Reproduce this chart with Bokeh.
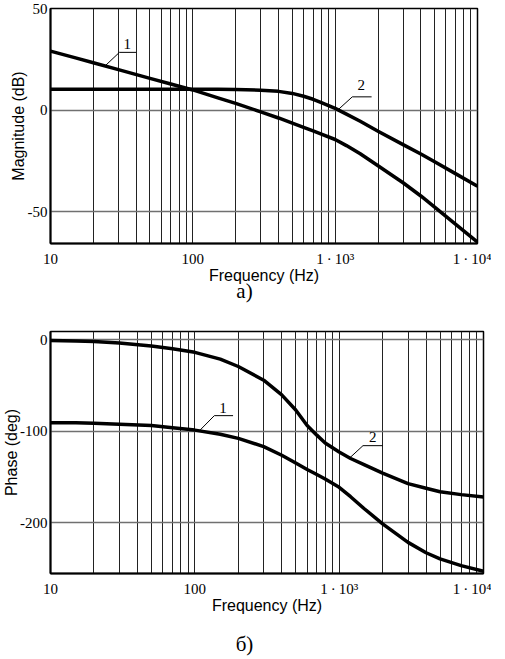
from bokeh.plotting import figure
from bokeh.models import FixedTicker, Div
from bokeh.layouts import column
from bokeh.embed import file_html
from bokeh.resources import INLINE
from bokeh.core.properties import value

# ---------------- data ----------------
freq = [10, 15, 20, 30, 50, 70, 100, 150, 200, 300, 400, 500, 600, 700, 800,
        1000, 1200, 1500, 2000, 3000, 4000, 5000, 7000, 10000]

mag1 = [29.0, 25.7, 23.3, 19.9, 15.6, 12.8, 9.9, 6.0, 3.3, -0.9, -3.9, -6.4, -8.5, -10.3, -11.9,
        -14.5, -17.5, -21.5, -27.4, -35.8, -42.3, -47.8, -56.2, -65.0]
mag2 = [10.2, 10.2, 10.2, 10.2, 10.2, 10.2, 10.2, 10.2, 10.1, 9.8, 9.2, 8.2, 6.8, 5.3, 3.7,
        0.8, -2.0, -5.5, -10.4, -17.0, -21.6, -25.5, -31.3, -37.5]

ph1 = [-91, -91, -91.5, -92.5, -94, -96.5, -99, -103.5, -108, -117, -126.5, -135, -142, -147.5, -152.5,
       -161.5, -171.8, -185.2, -201.5, -221.7, -233, -239.8, -247.1, -253.3]
ph2 = [-1, -1.5, -2.2, -3.8, -7.2, -10, -14, -21.5, -29.5, -44.5, -60.5, -77, -94, -104.5, -113,
       -123, -130, -137, -146, -157.5, -162.5, -166.3, -169.5, -172]

x_ticks = [10, 100, 1000, 10000]
x_tick_labels = ["10", "100", "1\u2009\u00b7\u200910\u00b3", "1\u2009\u00b7\u200910\u2074"]
mag_ticks = [-50, 0, 50]
mag_tick_labels = ["-50", "0", "50"]
phase_ticks = [-200, -100, 0]
phase_tick_labels = ["-200", "-100", "0"]

captions = ["a)", "\u0431)"]
curve_names = ["1", "2"]
# leader lines (frequency, value) and label anchors
mag_lead_f = [[24.4, 30.5, 40.0], [1062, 1319, 1803]]
mag_lead_v = [[22.0, 28.4, 28.4], [0.5, 6.5, 6.5]]
mag_lab_f = [34.6, 1524]
mag_lab_v = [32.5, 12.2]
ph_lead_f = [[109, 136.5, 184], [1183, 1462, 2000]]
ph_lead_v = [[-98.8, -83.2, -83.2], [-129.4, -116, -116]]
ph_lab_f = [157, 1710]
ph_lab_v = [-74.7, -106.8]

x_minor = [m * 10 ** k for k in (1, 2, 3) for m in range(2, 10)]

SERIF = "Liberation Serif"
SANS = "Liberation Sans"


def style(p, yticks, ylabels, ylabel, ylab_standoff):
    xt = FixedTicker(ticks=x_ticks, minor_ticks=x_minor)
    yt = FixedTicker(ticks=yticks)
    p.xaxis.ticker = xt
    p.yaxis.ticker = yt
    p.xgrid.ticker = xt
    p.ygrid.ticker = yt
    p.xaxis.major_label_overrides = {int(t): lab for t, lab in zip(x_ticks, x_tick_labels)}
    p.yaxis.major_label_overrides = {int(t): lab for t, lab in zip(yticks, ylabels)}
    p.xaxis.axis_label = "Frequency (Hz)"
    p.yaxis.axis_label = ylabel
    for ax in (p.xaxis[0], p.yaxis[0]):
        ax.major_tick_line_color = None
        ax.minor_tick_line_color = None
        ax.major_tick_out = 0
        ax.major_tick_in = 0
        ax.minor_tick_out = 0
        ax.minor_tick_in = 0
        ax.axis_line_color = "black"
        ax.axis_line_width = 2
        ax.major_label_text_font = SERIF
        ax.major_label_text_font_size = "15px"
        ax.major_label_text_color = "black"
        ax.axis_label_text_font = SANS
        ax.axis_label_text_font_size = "16px"
        ax.axis_label_text_font_style = "normal"
        ax.axis_label_text_color = "black"
    p.xaxis.major_label_standoff = 7
    p.xaxis.axis_label_standoff = -3
    p.yaxis.major_label_standoff = 3
    p.yaxis.axis_label_standoff = ylab_standoff
    p.xgrid.grid_line_color = "#222222"
    p.xgrid.grid_line_width = 1
    p.xgrid.minor_grid_line_color = "#222222"
    p.xgrid.minor_grid_line_width = 1
    p.ygrid.grid_line_color = "#707070"
    p.ygrid.grid_line_width = 1.5
    p.outline_line_color = "black"
    p.outline_line_width = 1.5
    p.background_fill_color = "white"
    p.border_fill_color = "white"


def curves(p, ys, lead_f, lead_v, lab_f, lab_v):
    for y in ys:
        p.line(freq, y, line_width=3.5, line_color="black", line_join="round")
    for lf, lv in zip(lead_f, lead_v):
        p.line(lf, lv, line_width=1, line_color="black")
    p.text(x=lab_f, y=lab_v, text=curve_names, text_font=value(SERIF), text_font_size="15px",
           text_align="center", text_baseline="middle", text_color="black")


def caption(text, top, height):
    html = ('<div style="font-family:\'Liberation Serif\',serif;font-size:21px;line-height:21px;'
            'text-align:center;width:489px;color:black;margin-top:%dpx">%s</div>' % (top, text))
    return Div(text=html, width=489, height=height, margin=0)


p1 = figure(frame_width=427, frame_height=235, x_axis_type="log", x_range=(10, 10000),
            y_range=(-65.7, 50), output_backend="svg", toolbar_location=None,
            min_border_left=42, min_border_right=20, min_border_top=8, min_border_bottom=40)
style(p1, mag_ticks, mag_tick_labels, "Magnitude (dB)", -2)
curves(p1, [mag1, mag2], mag_lead_f, mag_lead_v, mag_lab_f, mag_lab_v)

p2 = figure(frame_width=433, frame_height=242, x_axis_type="log", x_range=(10, 10000),
            y_range=(-255.7, 8.75), output_backend="svg", toolbar_location=None,
            min_border_left=48, min_border_right=8, min_border_top=13, min_border_bottom=40)
style(p2, phase_ticks, phase_tick_labels, "Phase (deg)", -3)
curves(p2, [ph1, ph2], ph_lead_f, ph_lead_v, ph_lab_f, ph_lab_v)

layout = column(p1, caption(captions[0], -6, 32), p2, caption(captions[1], 18, 40), spacing=0)
open("out.html", "w").write(file_html(layout, INLINE))
